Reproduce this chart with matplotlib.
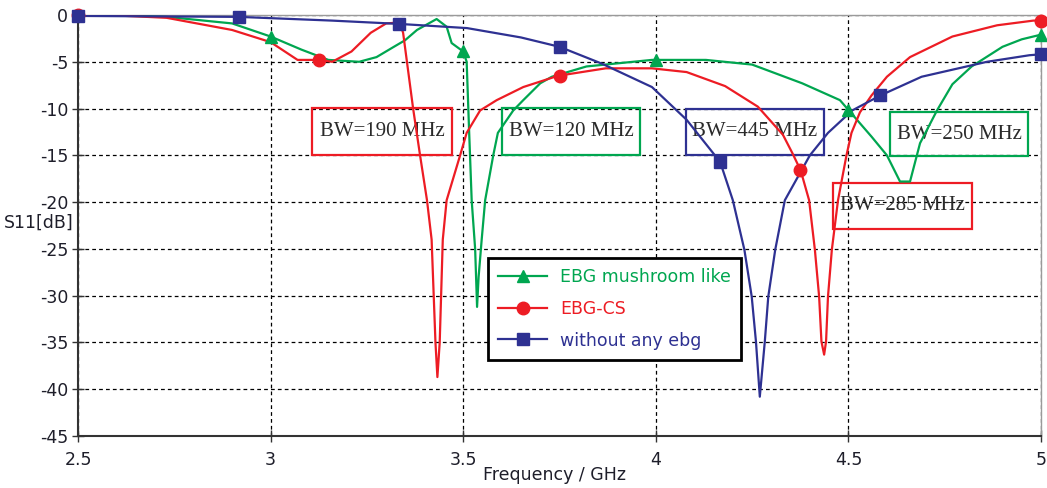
import numpy as np
import matplotlib
matplotlib.use("Agg")
import matplotlib.pyplot as plt
from matplotlib.patches import Rectangle

plt.rcParams["axes.unicode_minus"] = False

# ---------------- data ----------------
mush_f = [2.5, 2.6, 2.73, 2.9, 3.0, 3.08, 3.15, 3.23, 3.275, 3.32, 3.349, 3.38, 3.431,
          3.457, 3.47, 3.5, 3.509, 3.515, 3.522, 3.531, 3.536, 3.540, 3.548, 3.557,
          3.578, 3.59, 3.63, 3.656, 3.70, 3.73, 3.82, 3.99, 4.13, 4.25, 4.38, 4.478,
          4.56, 4.6, 4.634, 4.66, 4.686, 4.73, 4.77, 4.82, 4.9, 4.95, 5.0]
mush_db = [0.0, -0.02, -0.2, -0.9, -2.3, -3.7, -4.8, -5.0, -4.5, -3.4, -2.7, -1.6, -0.43,
           -1.25, -3.0, -3.9, -5.0, -12.0, -19.8, -25.0, -31.2, -28.0, -24.0, -19.8,
           -15.0, -12.6, -10.2, -9.1, -7.3, -6.6, -5.5, -4.8, -4.8, -5.3, -7.3, -9.1,
           -13.0, -15.0, -17.8, -17.8, -13.7, -10.2, -7.4, -5.5, -3.4, -2.6, -2.1]

cs_f = [2.5, 2.6, 2.73, 2.9, 3.0, 3.07, 3.125, 3.16, 3.21, 3.26, 3.30, 3.335, 3.344,
        3.37, 3.388, 3.406, 3.418, 3.428, 3.433, 3.439, 3.447, 3.457, 3.492, 3.509,
        3.544, 3.587, 3.656, 3.746, 3.87, 3.99, 4.08, 4.18, 4.265, 4.33, 4.355, 4.376,
        4.398, 4.413, 4.424, 4.43, 4.437, 4.442, 4.447, 4.457, 4.473, 4.495, 4.508,
        4.53, 4.56, 4.60, 4.66, 4.77, 4.886, 4.98, 5.0]
cs_db = [0.0, -0.05, -0.3, -1.6, -2.9, -4.8, -4.8, -5.0, -3.9, -1.9, -0.9, -0.8, -1.9,
         -10.0, -15.0, -19.8, -24.0, -35.0, -38.7, -35.0, -24.0, -19.8, -15.0, -12.6,
         -10.2, -9.1, -7.7, -6.5, -5.7, -5.7, -6.1, -7.6, -9.8, -12.8, -14.8, -16.6,
         -19.8, -25.1, -30.1, -34.9, -36.3, -34.9, -30.1, -25.1, -19.8, -15.0, -12.6,
         -10.4, -8.6, -6.6, -4.5, -2.3, -1.1, -0.6, -0.6]

noebg_f = [2.5, 2.917, 3.16, 3.333, 3.51, 3.65, 3.75, 3.86, 3.99, 4.08, 4.167, 4.20,
           4.23, 4.249, 4.26, 4.27, 4.283, 4.292, 4.31, 4.335, 4.40, 4.447, 4.51,
           4.583, 4.69, 4.86, 4.97, 5.0]
noebg_db = [-0.1, -0.2, -0.6, -0.95, -1.4, -2.4, -3.4, -5.2, -7.7, -11.2, -15.7, -19.8,
            -25.1, -30.1, -34.9, -40.8, -34.9, -30.1, -25.1, -19.8, -15.0, -12.6, -10.2,
            -8.6, -6.6, -5.0, -4.3, -4.2]

# marker frequencies for each series
mush_mk = [2.5, 3.0, 3.5, 4.0, 4.5, 5.0]
cs_mk = [2.5, 3.125, 3.75, 4.375, 5.0]
noebg_mk = [2.5, 2.917, 3.333, 3.75, 4.167, 4.583, 5.0]

labels = ["EBG mushroom like", "EBG-CS", "without any ebg"]
xticks = [2.5, 3, 3.5, 4, 4.5, 5]
xticklabels = ["2.5", "3", "3.5", "4", "4.5", "5"]
yticks = [0, -5, -10, -15, -20, -25, -30, -35, -40, -45]

# annotation boxes
bw_text = ["BW=190 MHz", "BW=120 MHz", "BW=445 MHz", "BW=250 MHz", "BW=285 MHz"]
bw_x0 = [3.107, 3.601, 4.078, 4.608, 4.46]
bw_x1 = [3.471, 3.959, 4.437, 4.966, 4.821]
bw_ytop = [-9.94, -9.94, -10.05, -10.37, -17.96]
bw_ybot = [-14.96, -14.96, -14.96, -15.07, -22.87]
bw_col = ["red", "green", "blue", "green", "red"]

# ---------------- style ----------------
GREEN = "#00A650"
RED = "#ED1C24"
BLUE = "#2E3192"
cmap = {"green": GREEN, "red": RED, "blue": BLUE}
TXT = "#1e1e2a"

fig = plt.figure(figsize=(10.47, 4.88), dpi=100)
ax = fig.add_axes([78 / 1047, 52 / 488, 963 / 1047, 421 / 488])

series = [
    (mush_f, mush_db, mush_mk, GREEN, "^", labels[0]),
    (cs_f, cs_db, cs_mk, RED, "o", labels[1]),
    (noebg_f, noebg_db, noebg_mk, BLUE, "s", labels[2]),
]
handles = []
for f, db, mk, c, m, lab in series:
    ax.plot(f, db, color=c, lw=1.6, zorder=3)
    mky = np.interp(mk, f, db)
    ax.plot(mk, mky, linestyle="none", marker=m, color=c, ms=9, zorder=4,
            clip_on=False)
    h, = ax.plot([], [], color=c, lw=1.6, marker=m, ms=9, label=lab)
    handles.append(h)

for t, x0, x1, yt, yb, ck in zip(bw_text, bw_x0, bw_x1, bw_ytop, bw_ybot, bw_col):
    ax.add_patch(Rectangle((x0, yb), x1 - x0, yt - yb, fill=False,
                           edgecolor=cmap[ck], lw=1.6, zorder=2))
    ax.text((x0 + x1) / 2, (yt + yb) / 2, t, ha="center", va="center",
            family="Liberation Serif", fontsize=15, color="#2a2a2a", zorder=2)

ax.set_xlim(2.5, 5)
ax.set_ylim(-45, 0)
ax.set_xticks(xticks)
ax.set_xticklabels(xticklabels)
ax.set_yticks(yticks)
ax.grid(True, color="black", linestyle=(0, (3, 2.5)), lw=0.9)
ax.set_axisbelow(True)
ax.tick_params(direction="inout", length=8, width=1, colors="#333333",
               labelcolor=TXT, labelsize=12.5)
ax.tick_params(axis="x", pad=7)
ax.tick_params(axis="y", pad=3)

for s in ["left", "bottom"]:
    ax.spines[s].set_color("#333333")
    ax.spines[s].set_linewidth(1.5)
for s in ["top", "right"]:
    ax.spines[s].set_color("#9a9a9a")
    ax.spines[s].set_linewidth(1.0)

fig.text(74 / 1047, 1 - 223 / 488, "S11[dB]", ha="right", va="center",
         fontsize=12.5, color=TXT)
fig.text(483 / 1047, 1 - 475 / 488, "Frequency / GHz", ha="left", va="center",
         fontsize=12.5, color=TXT)

leg = ax.legend(handles=handles, loc="upper left",
                bbox_to_anchor=((488 - 78) / 963, 1 - (258 - 15) / 421),
                borderaxespad=0, fancybox=False, framealpha=1, edgecolor="black",
                fontsize=12.5, handlelength=2.8, handletextpad=0.75,
                labelspacing=0.78, borderpad=0.6)
leg.get_frame().set_linewidth(2)
for txt, (_, _, _, c, _, _) in zip(leg.get_texts(), series):
    txt.set_color(c)
leg.set_zorder(5)

fig.savefig("out.png", dpi=100)
